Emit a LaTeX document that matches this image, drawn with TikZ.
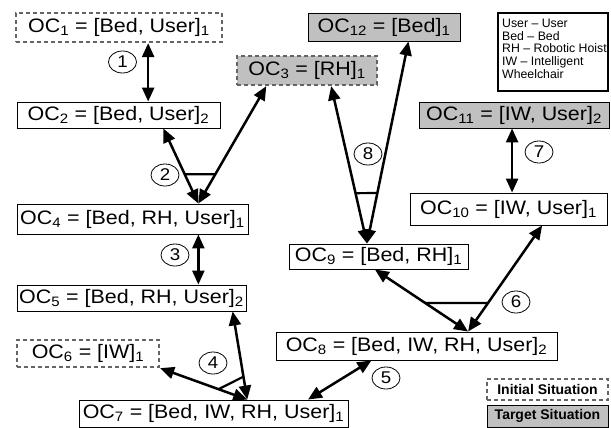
\documentclass[tikz,border=0pt]{standalone}
\usepackage{fontspec}
\setmainfont{Liberation Sans}
\newfontfamily\bxfont[FakeStretch=1.1]{Liberation Sans}
\usetikzlibrary{arrows.meta,calc,shapes.geometric}
\definecolor{boxgray}{RGB}{192,192,192}
\definecolor{dashgray}{RGB}{100,100,100}
\newcommand\ocsub[1]{\textsubscript{#1}}
\tikzset{
  ocbox/.style={draw=black, line width=0.9pt, inner sep=0pt, fill=white,
    font=\bxfont\fontsize{19.5}{22}\selectfont},
  initbox/.style={ocbox, draw=dashgray, line width=2.3pt, dash pattern=on 4pt off 3pt},
  targetbox/.style={fill=boxgray},
  conn/.style={line width=2.5pt, {Triangle[length=14pt,width=12pt]}-{Triangle[length=14pt,width=12pt]}},
  crossbar/.style={line width=2.2pt},
  stepnum/.style={ellipse, draw, line width=0.8pt, minimum width=28pt, minimum height=22pt,
    inner sep=0pt, font=\bxfont\fontsize{17}{17}\selectfont},
}
\begin{document}
\begin{tikzpicture}[x=1pt,y=-1pt]
\useasboundingbox (0,0) rectangle (611,428);
% boxes
\node[initbox, minimum width=206pt, minimum height=29pt] (oc1) at (119,27.5) {OC\ocsub{1} = [Bed, User]\ocsub{1}};
\node[ocbox, minimum width=203pt, minimum height=26pt] (oc2) at (118.5,115) {OC\ocsub{2} = [Bed, User]\ocsub{2}};
\node[initbox, targetbox, minimum width=140pt, minimum height=29pt] (oc3) at (307,70.5) {OC\ocsub{3} = [RH]\ocsub{1}};
\node[ocbox, minimum width=231pt, minimum height=30pt] (oc4) at (132.5,219) {OC\ocsub{4} = [Bed, RH, User]\ocsub{1}};
\node[ocbox, minimum width=229pt, minimum height=26pt] (oc5) at (131.5,298) {OC\ocsub{5} = [Bed, RH, User]\ocsub{2}};
\node[initbox, minimum width=142pt, minimum height=27pt] (oc6) at (88,353.5) {OC\ocsub{6} = [IW]\ocsub{1}};
\node[ocbox, minimum width=269pt, minimum height=27pt] (oc7) at (213.5,413.5) {OC\ocsub{7} = [Bed, IW, RH, User]\ocsub{1}};
\node[ocbox, minimum width=281pt, minimum height=28pt] (oc8) at (416.5,346) {OC\ocsub{8} = [Bed, IW, RH, User]\ocsub{2}};
\node[ocbox, minimum width=179pt, minimum height=25pt] (oc9) at (378.5,256.5) {OC\ocsub{9} = [Bed, RH]\ocsub{1}};
\node[ocbox, minimum width=197pt, minimum height=32pt] (oc10) at (508.5,209) {OC\ocsub{10} = [IW, User]\ocsub{1}};
\node[ocbox, targetbox, minimum width=190pt, minimum height=26pt] (oc11) at (514,115) {OC\ocsub{11} = [IW, User]\ocsub{2}};
\node[ocbox, targetbox, minimum width=152pt, minimum height=28pt] (oc12) at (384,27) {OC\ocsub{12} = [Bed]\ocsub{1}};
% legend
\node[draw=black, line width=1.4pt, minimum width=110pt, minimum height=78pt] (legend) at (553,52) {};
\node[anchor=north west, inner sep=0pt, align=left, font=\fontsize{12.3}{12.6}\selectfont] (legtext) at (502,19)
  {User -- User\\Bed -- Bed\\RH -- Robotic Hoist\\IW -- Intelligent\\Wheelchair};
\node[initbox, minimum width=121pt, minimum height=21pt, font=\bfseries\fontsize{14}{16}\selectfont] (initial) at (547.5,389.5) {Initial Situation};
\node[ocbox, targetbox, minimum width=121pt, minimum height=22pt, font=\bfseries\fontsize{14}{16}\selectfont] (target) at (547.5,416) {Target Situation};
% connector points
\coordinate (a1) at ($(oc1.south west)!0.64!(oc1.south east)$);
\coordinate (t2) at ($(oc4.north west)!0.784!(oc4.north east)$);
\coordinate (e2a) at ($(oc2.south west)!0.72!(oc2.south east)$);
\coordinate (e2b) at ($(oc3.south west)!0.214!(oc3.south east)$);
\coordinate (a3) at ($(oc4.south west)!0.784!(oc4.south east)$);
\coordinate (t4) at ($(oc7.north west)!0.625!(oc7.north east)$);
\coordinate (e4a) at ($(oc5.south west)!0.94!(oc5.south east)$);
\coordinate (e4b) at (oc6.south east);
\coordinate (s5a) at ($(oc7.north west)!0.85!(oc7.north east)$);
\coordinate (s5b) at ($(oc8.south west)!0.34!(oc8.south east)$);
\coordinate (t6) at ($(oc8.north west)!0.683!(oc8.north east)$);
\coordinate (e6a) at ($(oc9.south west)!0.48!(oc9.south east)$);
\coordinate (e6b) at ($(oc10.south west)!0.67!(oc10.south east)$);
\coordinate (a7) at ($(oc11.south west)!0.49!(oc11.south east)$);
\coordinate (t8) at ($(oc9.north west)!0.436!(oc9.north east)$);
\coordinate (e8a) at ($(oc3.south west)!0.67!(oc3.south east)$);
\coordinate (e8b) at ($(oc12.south west)!0.66!(oc12.south east)$);
% connectors
\draw[conn] (a1) -- (a1 |- oc2.north);
\draw[conn] (e2a) -- (t2);
\draw[conn] (e2b) -- (t2);
\draw[crossbar] ($(t2)!0.39!(e2a)$) -- ($(t2)!0.25!(e2b)$);
\draw[conn] (a3) -- (a3 |- oc5.north);
\draw[conn] (e4a) -- (t4);
\draw[conn] (e4b) -- (t4);
\draw[crossbar] ($(t4)!0.33!(e4b)$) -- ($(t4)!0.26!(e4a)$);
\draw[conn] (s5a) -- (s5b);
\draw[conn] (e6a) -- (t6);
\draw[conn] (e6b) -- (t6);
\draw[crossbar] ($(t6)!0.46!(e6a)$) -- ($(t6)!0.27!(e6b)$);
\draw[conn] (a7) -- (a7 |- oc10.north);
\draw[conn] (e8a) -- (t8);
\draw[conn] (e8b) -- (t8);
\draw[crossbar] ($(t8)!0.32!(e8a)$) -- ($(t8)!0.25!(e8b)$);
% step numbers
\node[stepnum] (n1) at (122.5,62) {1};
\node[stepnum] (n2) at (165,175) {2};
\node[stepnum] (n3) at (175,255) {3};
\node[stepnum] (n4) at (213,363) {4};
\node[stepnum] (n5) at (386,378) {5};
\node[stepnum] (n6) at (516,302) {6};
\node[stepnum] (n7) at (539,152) {7};
\node[stepnum] (n8) at (368,154) {8};
\end{tikzpicture}
\end{document}
